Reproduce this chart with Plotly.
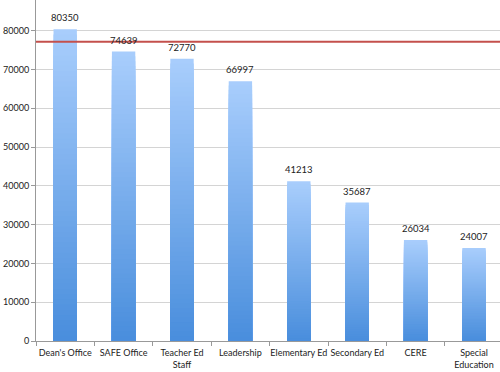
import plotly.graph_objects as go

categories = ["Dean's Office", "SAFE Office", "Teacher Ed<br>Staff", "Leadership",
              "Elementary Ed", "Secondary Ed", "CERE", "Special<br>Education"]
values = [80350, 74639, 72770, 66997, 41213, 35687, 26034, 24007]
reference_value = 77165
y_ticks = [0, 10000, 20000, 30000, 40000, 50000, 60000, 70000, 80000]
y_tick_labels = ["0", "10000", "20000", "30000", "40000", "50000", "60000", "70000", "80000"]

top_rgb = (168, 205, 252)
bottom_rgb = (72, 141, 220)
N = 60

fig = go.Figure()
# overlapping bars from tallest (light) to shortest (dark) -> seamless vertical gradient
for k in range(N):
    frac = 1 - k / N
    c = tuple(round(bottom_rgb[i] + (top_rgb[i] - bottom_rgb[i]) * frac) for i in range(3))
    fig.add_trace(go.Bar(
        x=categories,
        y=[v * frac for v in values],
        marker=dict(color="rgb(%d,%d,%d)" % c, line=dict(width=0)),
        hoverinfo="skip",
        showlegend=False,
    ))

for cat, v in zip(categories, values):
    fig.add_annotation(x=cat, y=v, text=str(v), showarrow=False,
                       yanchor="bottom", yshift=4,
                       font=dict(size=9.5, color="#222", family="Lato"))

fig.add_shape(type="line", xref="paper", x0=0, x1=1, yref="y",
              y0=reference_value, y1=reference_value,
              line=dict(color="#c4504c", width=2), layer="above")

fig.update_layout(
    width=500, height=372,
    margin=dict(l=36, r=0, t=0, b=31),
    plot_bgcolor="white", paper_bgcolor="white",
    barmode="overlay", bargap=0.6,
    font=dict(family="Lato", size=9, color="#222"),
    xaxis=dict(range=[-0.5, 7.445], showline=True, linecolor="#999", linewidth=1,
               ticks="outside", tickcolor="#999", ticklen=4, tickson="boundaries",
               ticklabelstandoff=3,
               showgrid=False, tickangle=0, automargin=False,
               tickfont=dict(size=9, color="#222", family="Lato")),
    yaxis=dict(range=[0, 87916], tickvals=y_ticks, ticktext=y_tick_labels,
               showline=True, linecolor="#999",
               linewidth=1, ticks="outside", tickcolor="#999", ticklen=4,
               showgrid=True, gridcolor="#d4d4d4", gridwidth=1, zeroline=False,
               automargin=False, tickfont=dict(size=9, color="#222", family="Lato")),
)

fig.write_html("out.html", config={"displayModeBar": False},
               post_script="document.body.style.margin='0px';")
